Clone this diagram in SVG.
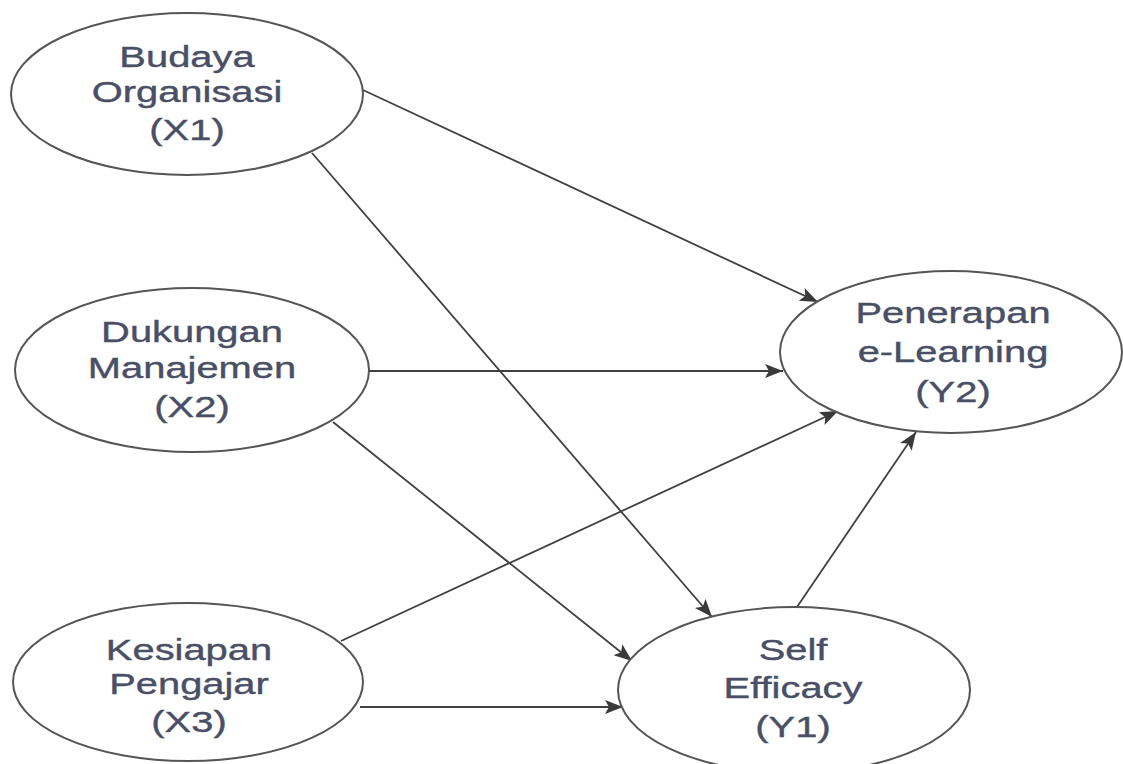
<svg xmlns="http://www.w3.org/2000/svg" width="1123" height="764" viewBox="0 0 1123 764">
<defs>
<marker id="arr" markerUnits="userSpaceOnUse" markerWidth="20" markerHeight="16" refX="18" refY="7" orient="auto">
<path d="M0,0 L18,7 L0,14 L4,7 z" fill="#3a3a3a"/>
</marker>
<style>
.node{fill:#ffffff;stroke:#555555;stroke-width:2}
.lbl{font-family:"Liberation Sans",Arial,sans-serif;font-size:30px;fill:#4a4f66;stroke:#4a4f66;stroke-width:0.4;text-anchor:middle}
.edge{stroke:#404040;stroke-width:1.8;fill:none;marker-end:url(#arr)}
</style>
</defs>
<rect width="1123" height="764" fill="#ffffff"/>
<g id="connectors">
<line class="edge" x1="363" y1="90" x2="818" y2="302"/>
<line class="edge" x1="312" y1="153" x2="712" y2="617"/>
<line class="edge" x1="369" y1="371" x2="783" y2="371"/>
<line class="edge" x1="333" y1="422" x2="632" y2="661"/>
<line class="edge" x1="341" y1="641" x2="838" y2="411"/>
<line class="edge" x1="360" y1="707" x2="623" y2="707"/>
<line class="edge" x1="797" y1="607" x2="916" y2="432"/>
</g>
<g id="X1">
<ellipse class="node" cx="187" cy="94" rx="176" ry="81"/>
<g transform="translate(187 0) scale(1.33 1)">
<text class="lbl" x="0" y="67">Budaya</text>
<text class="lbl" x="0" y="102">Organisasi</text>
<text class="lbl" x="0" y="140">(X1)</text>
</g>
</g>
<g id="X2">
<ellipse class="node" cx="192" cy="370" rx="177" ry="82"/>
<g transform="translate(192 0) scale(1.33 1)">
<text class="lbl" x="0" y="342">Dukungan</text>
<text class="lbl" x="0" y="378">Manajemen</text>
<text class="lbl" x="0" y="417">(X2)</text>
</g>
</g>
<g id="X3">
<ellipse class="node" cx="188" cy="682" rx="175" ry="79"/>
<g transform="translate(189 0) scale(1.33 1)">
<text class="lbl" x="0" y="660">Kesiapan</text>
<text class="lbl" x="0" y="694">Pengajar</text>
<text class="lbl" x="0" y="732">(X3)</text>
</g>
</g>
<g id="Y2">
<ellipse class="node" cx="951" cy="352" rx="171" ry="81"/>
<g transform="translate(953 0) scale(1.33 1)">
<text class="lbl" x="0" y="323">Penerapan</text>
<text class="lbl" x="0" y="362">e-Learning</text>
<text class="lbl" x="0" y="402">(Y2)</text>
</g>
</g>
<g id="Y1">
<ellipse class="node" cx="794" cy="690" rx="176" ry="83"/>
<g transform="translate(793 0) scale(1.33 1)">
<text class="lbl" x="0" y="660">Self</text>
<text class="lbl" x="0" y="698">Efficacy</text>
<text class="lbl" x="0" y="737">(Y1)</text>
</g>
</g>
</svg>
